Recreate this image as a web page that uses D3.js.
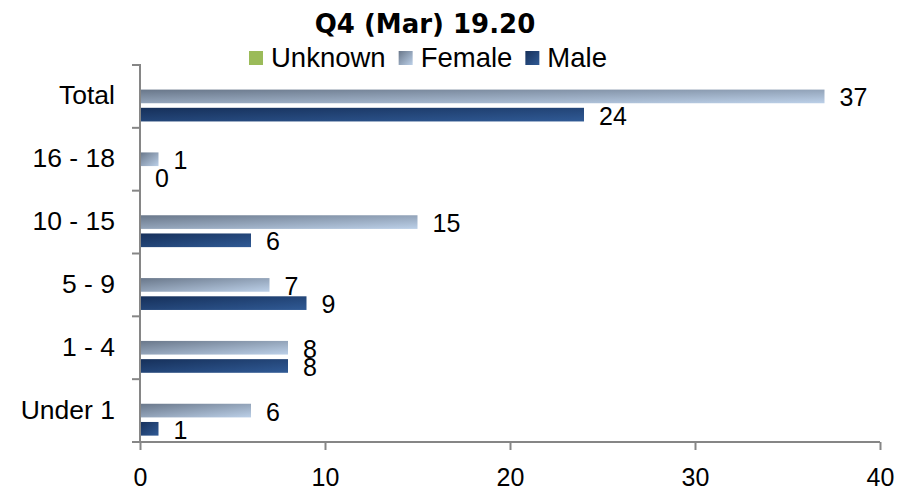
<!DOCTYPE html>
<html>
<head>
<meta charset="utf-8">
<script src="https://cdn.jsdelivr.net/npm/d3@7"></script>
<style>
  html, body { margin: 0; padding: 0; background: #ffffff; }
  svg { display: block; }
  text { font-family: "Liberation Sans", Arial, sans-serif; fill: #000; }
  text.title { font-family: "DejaVu Sans", sans-serif; font-weight: bold; }
</style>
</head>
<body>
<svg id="chart" width="917" height="491"></svg>
<script>
const title = "Q4 (Mar) 19.20";
const categories = ["Total", "16 - 18", "10 - 15", "5 - 9", "1 - 4", "Under 1"];
const seriesNames = ["Unknown", "Female", "Male"];
const unknownValues = [0, 0, 0, 0, 0, 0];
const femaleValues = [37, 1, 15, 7, 8, 6];
const maleValues = [24, 0, 6, 9, 8, 1];
const xTicks = [0, 10, 20, 30, 40];

const seriesValues = { Unknown: unknownValues, Female: femaleValues, Male: maleValues };
const showLabels = { Unknown: false, Female: true, Male: true };

const svg = d3.select("#chart");
const defs = svg.append("defs");

function diag(id, c0, c1) {
  const g = defs.append("linearGradient").attr("id", id)
    .attr("x1", 0).attr("y1", 0).attr("x2", 1).attr("y2", 1);
  g.append("stop").attr("offset", "0%").attr("stop-color", c0);
  g.append("stop").attr("offset", "100%").attr("stop-color", c1);
}
diag("gUnknown", "#9bbb59", "#9bbb59");
diag("gFemale", "#69778a", "#bcd0e8");
diag("gMale", "#16305a", "#305a95");
const fills = { Unknown: "url(#gUnknown)", Female: "url(#gFemale)", Male: "url(#gMale)" };
const legendFills = { Unknown: "#9bbb59", Female: "url(#gFemale)", Male: "url(#gMale)" };

const x = d3.scaleLinear().domain([0, 40]).range([140, 880]);
const y = d3.scaleBand().domain(categories).range([65, 442]).padding(0);
const ys = d3.scaleBand().domain(seriesNames).range([0, y.bandwidth()])
  .paddingInner(0.25).paddingOuter(0.35).align(0.5);

const axisColor = "#868686";

// Bars
seriesNames.forEach(s => {
  const vals = seriesValues[s];
  svg.append("g").selectAll("rect").data(categories).join("rect")
    .attr("x", x(0))
    .attr("y", (c) => y(c) + ys(s))
    .attr("width", (c, i) => Math.max(0, x(vals[i]) - x(0)))
    .attr("height", ys.bandwidth())
    .attr("fill", fills[s]);
  if (showLabels[s]) {
    svg.append("g").selectAll("text").data(categories).join("text")
      .attr("x", (c, i) => x(vals[i]) + 15)
      .attr("y", (c) => y(c) + ys(s) + ys.bandwidth() / 2 + 1)
      .attr("dy", "0.36em")
      .attr("font-size", 25)
      .text((c, i) => vals[i]);
  }
});

// Y axis
const yAxis = svg.append("g");
yAxis.append("line").attr("x1", x(0)).attr("x2", x(0)).attr("y1", 64).attr("y2", 443)
  .attr("stroke", axisColor).attr("stroke-width", 2);
const boundaries = categories.map(c => y(c)).concat([y.range()[1]]);
yAxis.selectAll("line.tk").data(boundaries).join("line").attr("class", "tk")
  .attr("x1", x(0) - 8).attr("x2", x(0)).attr("y1", d => d).attr("y2", d => d)
  .attr("stroke", axisColor).attr("stroke-width", 2);
yAxis.selectAll("text").data(categories).join("text")
  .attr("x", 115).attr("y", c => y(c) + y.bandwidth() / 2 - 1.5)
  .attr("dy", "0.36em").attr("text-anchor", "end").attr("font-size", 26.5)
  .text(c => c);

// X axis
const xAxisG = svg.append("g").attr("transform", `translate(0,${y.range()[1]})`)
  .call(d3.axisBottom(x).tickValues(xTicks).tickSize(8).tickPadding(6).tickSizeOuter(0));
xAxisG.select(".domain").attr("stroke", axisColor).attr("stroke-width", 2)
  .attr("d", `M${x(0) - 8},0H${x(40)}`);
xAxisG.selectAll(".tick line").attr("stroke", axisColor).attr("stroke-width", 2);
xAxisG.selectAll(".tick text").attr("font-size", 25)
  .attr("fill", "#000")
  .attr("dy", null).attr("y", 43.5);

// Title
svg.append("text").attr("class", "title").attr("x", 425).attr("y", 33).attr("text-anchor", "middle")
  .attr("font-size", 26).text(title);

// Legend
const legend = svg.append("g");
let lx = 249;
seriesNames.forEach(s => {
  legend.append("rect").attr("x", lx).attr("y", 51).attr("width", 14).attr("height", 14)
    .attr("fill", legendFills[s]);
  const t = legend.append("text").attr("x", lx + 22).attr("y", 67).attr("font-size", 27.5).text(s);
  lx += 22 + t.node().getComputedTextLength() + 13;
});
</script>
</body>
</html>
